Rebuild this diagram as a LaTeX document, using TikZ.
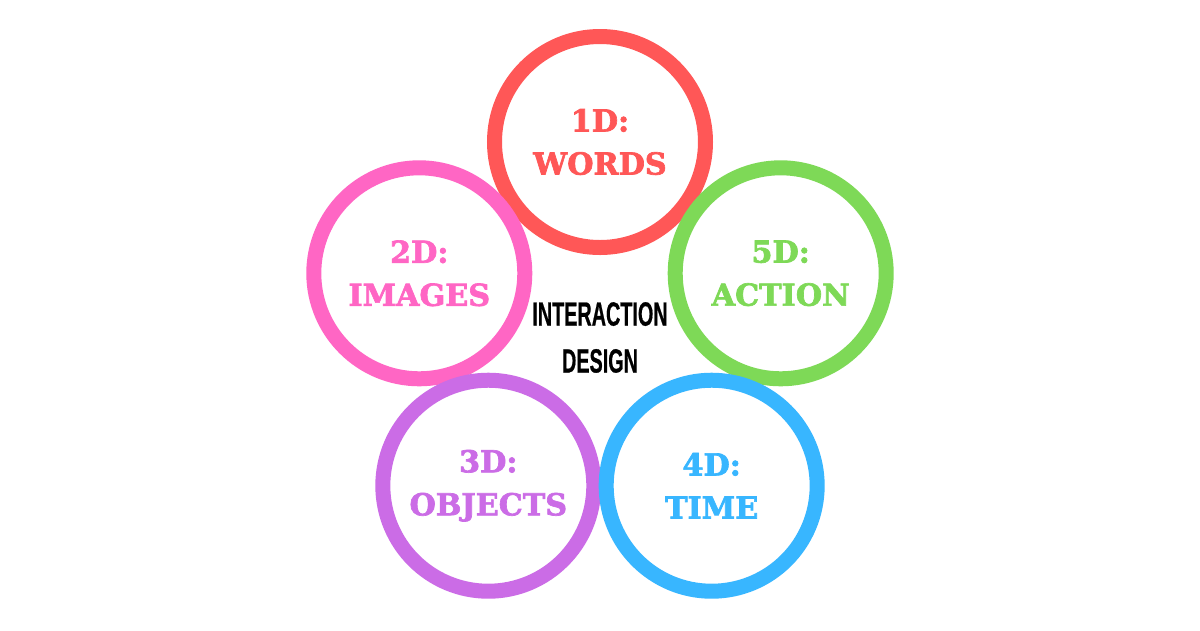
\documentclass[tikz,border=0pt]{standalone}
\usepackage{fontspec}
\usepackage{graphicx}
\setmainfont{DejaVu Serif}[BoldFeatures={FakeBold=2.2}]
\newfontfamily\bannerfont{Liberation Sans}[BoldFeatures={FakeBold=0.8}]

\begin{document}
\begin{tikzpicture}[
        ring/.style={circle, draw=#1, text=#1, line width=0.3cm, minimum size=4.22cm,
            inner sep=0pt, align=center, font=\fontsize{17.2}{24.5}\selectfont\bfseries},
        banner/.style={align=center, text=black, font=\bannerfont\bfseries\fontsize{19.1}{26.7}\selectfont}
    ]
        % Colours of the rings
        \definecolor{wordsred}{RGB}{255,87,87}
        \definecolor{imagespink}{RGB}{255,102,196}
        \definecolor{objectspurple}{RGB}{203,108,230}
        \definecolor{timeblue}{RGB}{56,182,255}
        \definecolor{actiongreen}{RGB}{126,217,87}

        % Distance from the middle to each ring
        \def\ringdist{3.8}

        % Page
        \fill[white] (-12,-6.3) rectangle (12,6.3);
        \useasboundingbox (-12,-6.3) rectangle (12,6.3);

        % Rings on a pentagon
        \begin{scope}[shift={(0,-0.34)}]
        \node[ring=wordsred] (words) at (90:\ringdist) {1D:\\WORDS};
        \node[ring=imagespink] (images) at (162:\ringdist) {2D:\\IMAGES};
        \node[ring=actiongreen] (action) at (18:\ringdist) {5D:\\ACTION};
        \node[ring=objectspurple] (objects) at (234:\ringdist) {3D:\\OBJECTS};
        \node[ring=timeblue] (time) at (306:\ringdist) {4D:\\TIME};
        \end{scope}

        % Title in the middle
        \node[banner] (design) at (0,-0.45) {\scalebox{0.59}[1]{INTERACTION}\\\scalebox{0.59}[1]{DESIGN}};
    \end{tikzpicture}
\end{document}
